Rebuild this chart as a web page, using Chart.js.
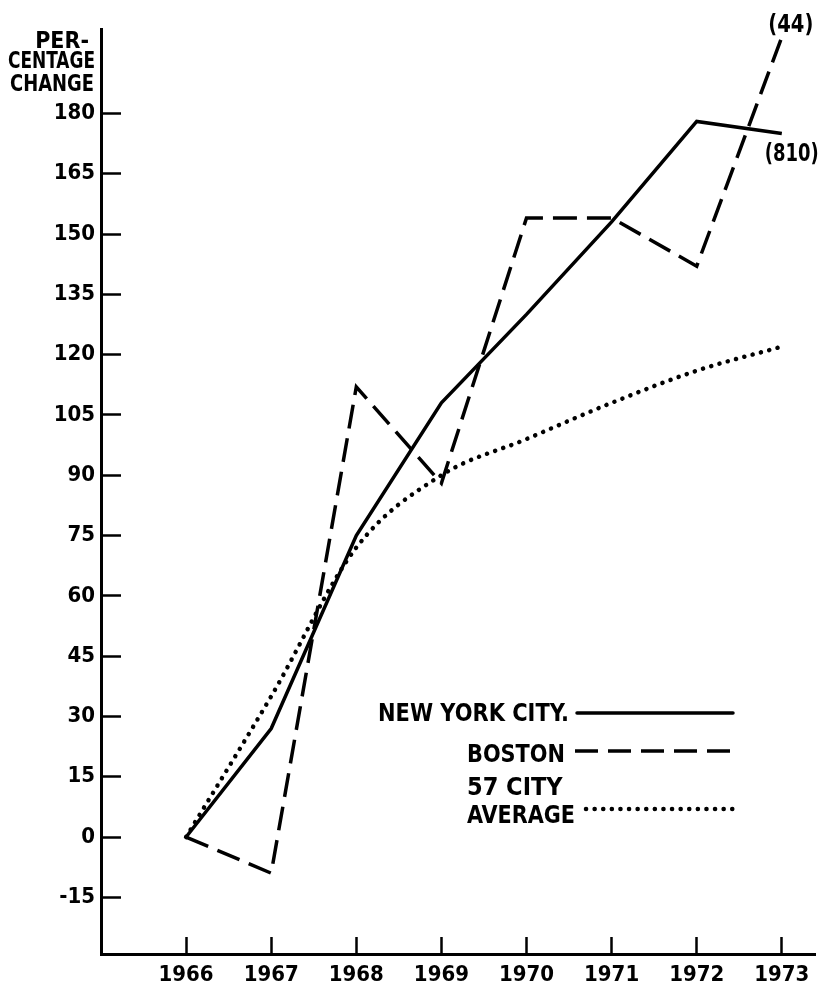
<!DOCTYPE html>
<html>
<head>
<meta charset="utf-8">
<script src="https://cdn.jsdelivr.net/npm/chart.js@4.4.1/dist/chart.umd.min.js"></script>
<style>
  html, body { margin: 0; padding: 0; background: #fff; }
  #wrap { width: 822px; height: 988px; }
</style>
</head>
<body>
<div id="wrap"><canvas id="myChart1" width="822" height="988"></canvas></div>
<script>
const years = [1966, 1967, 1968, 1969, 1970, 1971, 1972, 1973];
const nycValues = [0, 27, 75, 108, 130, 153, 178, 175];
const bostonValues = [0, -9, 112, 88, 154, 154, 142, 199];
const averageValues = [0, 35, 72, 90, 99, 108, 116, 122];
const yTickValues = [-15, 0, 15, 30, 45, 60, 75, 90, 105, 120, 135, 150, 165, 180];
const yTitle = ["PER-", "CENTAGE", "CHANGE"];
const bostonNote = "(44)";
const nycNote = "(810)";

const FONT = "'Liberation Sans Narrow', 'DejaVu Sans Condensed', 'Roboto', sans-serif";

function toPoints(values) {
  return values.map(function (v, i) {
    return { x: years[i], y: v };
  });
}

// title, legend and end notes
const annotations = {
  id: "annotations",
  afterDraw(chart) {
    const ctx = chart.ctx;
    const xs = chart.scales.x;
    const ys = chart.scales.y;
    ctx.save();
    ctx.fillStyle = "#000";
    ctx.strokeStyle = "#000";

    // axis title
    ctx.font = "bold 23px " + FONT;
    ctx.textAlign = "right";
    ctx.textBaseline = "alphabetic";
    ctx.fillText(yTitle[0], 89, 48, 54);
    ctx.fillText(yTitle[1], 95, 68, 87);
    ctx.fillText(yTitle[2], 94, 91, 84);

    // notes at the end of the lines
    const last = years.length - 1;
    const bx = xs.getPixelForValue(years[last]);
    const by = ys.getPixelForValue(bostonValues[last]);
    const ny = ys.getPixelForValue(nycValues[last]);
    ctx.font = "bold 25px " + FONT;
    ctx.textAlign = "center";
    ctx.textBaseline = "middle";
    ctx.fillText(bostonNote, bx + 9, by - 12, 45);
    ctx.fillText(nycNote, bx + 10, ny + 21, 54);

    // legend
    ctx.font = "bold 25px " + FONT;
    ctx.textBaseline = "alphabetic";
    ctx.textAlign = "right";
    ctx.fillText("NEW YORK CITY.", 569, 721, 191);
    ctx.fillText("BOSTON", 565, 762, 98);
    ctx.textAlign = "left";
    ctx.fillText("57 CITY", 467, 795, 96);
    ctx.fillText("AVERAGE", 467, 823, 108);

    ctx.lineWidth = 3.5;
    ctx.lineCap = "round";
    ctx.beginPath();
    ctx.moveTo(577, 713);
    ctx.lineTo(733, 713);
    ctx.stroke();

    ctx.setLineDash([23, 10]);
    ctx.lineCap = "butt";
    ctx.beginPath();
    ctx.moveTo(575, 751);
    ctx.lineTo(733, 751);
    ctx.stroke();

    ctx.setLineDash([0.1, 8.5]);
    ctx.lineCap = "round";
    ctx.lineWidth = 4.5;
    ctx.beginPath();
    ctx.moveTo(586, 809);
    ctx.lineTo(733, 809);
    ctx.stroke();
    ctx.restore();
  },
};

const myChart1 = document.getElementById("myChart1").getContext("2d");
const changeChart = new Chart(myChart1, {
  type: "line",
  data: {
    datasets: [
      {
        label: "NEW YORK CITY",
        data: toPoints(nycValues),
        borderColor: "#000",
        borderWidth: 3.5,
        pointRadius: 0,
        tension: 0,
      },
      {
        label: "BOSTON",
        data: toPoints(bostonValues),
        borderColor: "#000",
        borderWidth: 3.5,
        borderDash: [24, 10],
        pointRadius: 0,
        tension: 0,
      },
      {
        label: "57 CITY AVERAGE",
        data: toPoints(averageValues),
        borderColor: "#000",
        borderWidth: 4.5,
        borderDash: [0.1, 8.5],
        borderCapStyle: "round",
        pointRadius: 0,
        cubicInterpolationMode: "monotone",
      },
    ],
  },
  options: {
    responsive: false,
    animation: false,
    devicePixelRatio: 1,
    layout: { padding: { top: 29, right: 7, left: 0, bottom: 0 } },
    plugins: {
      legend: { display: false },
      tooltip: { enabled: false },
    },
    scales: {
      x: {
        type: "linear",
        min: 1965,
        max: 1973.39,
        afterBuildTicks: function (scale) {
          scale.ticks = years.map(function (v) { return { value: v }; });
        },
        afterFit: function (scale) {
          scale.height = 34;
          scale.paddingLeft = 0;
          scale.paddingRight = 0;
        },
        border: { display: true, color: "#000", width: 3 },
        grid: {
          drawOnChartArea: false,
          drawTicks: true,
          tickLength: -17,
          tickWidth: 2.5,
          tickColor: "#000",
        },
        ticks: {
          padding: 25,
          color: "#000",
          maxRotation: 0,
          autoSkip: false,
          font: { family: FONT, size: 22, weight: "bold" },
          callback: function (v) { return String(v); },
        },
      },
      y: {
        min: -29.1,
        max: 201,
        afterBuildTicks: function (scale) {
          scale.ticks = yTickValues.map(function (v) { return { value: v }; });
        },
        afterFit: function (scale) {
          scale.width = 101;
          scale.paddingTop = 0;
          scale.paddingBottom = 0;
        },
        border: { display: true, color: "#000", width: 3 },
        grid: {
          drawOnChartArea: false,
          drawTicks: true,
          tickLength: -20,
          tickWidth: 2.5,
          tickColor: "#000",
        },
        ticks: {
          padding: 26,
          color: "#000",
          font: { family: FONT, size: 22, weight: "bold" },
        },
      },
    },
  },
  plugins: [annotations],
});
</script>
</body>
</html>
